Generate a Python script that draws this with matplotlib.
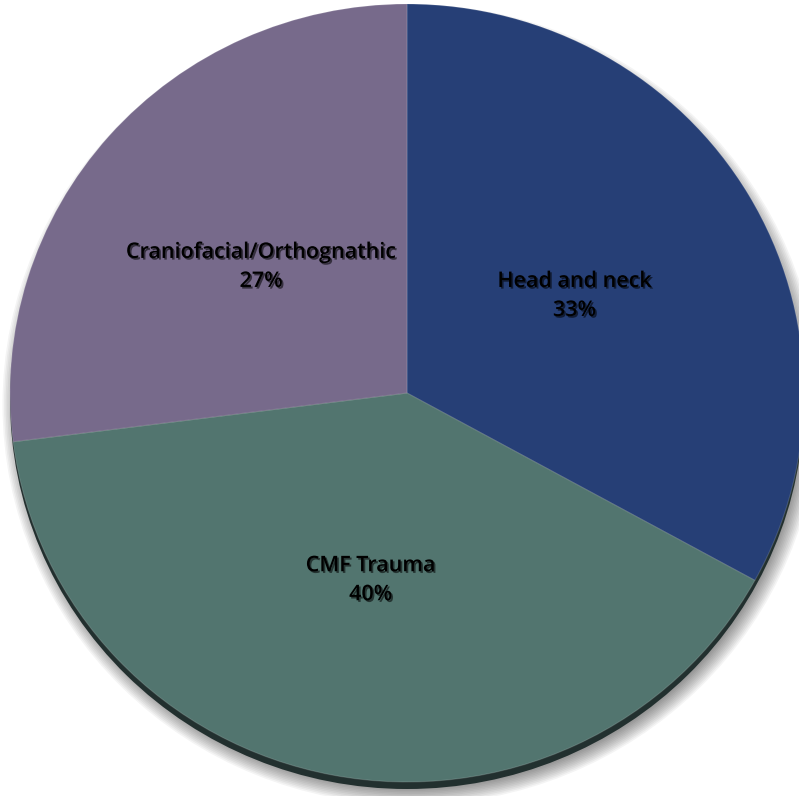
import matplotlib.pyplot as plt
import matplotlib.patheffects as pe
from matplotlib.patches import Circle
import numpy as np

labels = ["Head and neck", "CMF Trauma", "Craniofacial/Orthognathic"]
shares = [33, 40, 27]
colors = ["#263f76", "#52756f", "#776a8b"]

fig = plt.figure(figsize=(7.99, 7.96), dpi=100)
ax = fig.add_axes([0, 0, 1, 1])

# soft grey shadow below the pie
for i in range(12):
    ax.add_patch(Circle((0.01, -0.03), 0.985 + 0.004 * i, color="black",
                        alpha=0.045, lw=0, zorder=0))
# dark rim at the bottom
ax.add_patch(Circle((0, -0.018), 1.0, color="#22302f", lw=0, zorder=1))

wedges, _ = ax.pie(shares, colors=colors, startangle=90, counterclock=False,
                   radius=1.0, wedgeprops=dict(linewidth=0.8, edgecolor=(1, 1, 1, 0.15)))
for w in wedges:
    w.set_zorder(2)

shadow = [pe.withSimplePatchShadow(offset=(1.2, -1.2), shadow_rgbFace="black", alpha=0.55)]
for w, lab, v in zip(wedges, labels, shares):
    ang = np.deg2rad((w.theta1 + w.theta2) / 2)
    x, y = 0.49 * np.cos(ang), 0.49 * np.sin(ang)
    ax.text(x, y, f"{lab}\n{v}%", ha="center", va="center", fontsize=15.5,
            fontweight="semibold", family="Open Sans", color="black",
            linespacing=1.5, zorder=5, path_effects=shadow)

# slightly squashed, like the tilted original
ax.set_xlim(-407 / 397, 392 / 397)
ax.set_ylim(-403 / 389, 393 / 389)
ax.set_aspect("auto")
ax.axis("off")

plt.savefig("out.png", dpi=100)
